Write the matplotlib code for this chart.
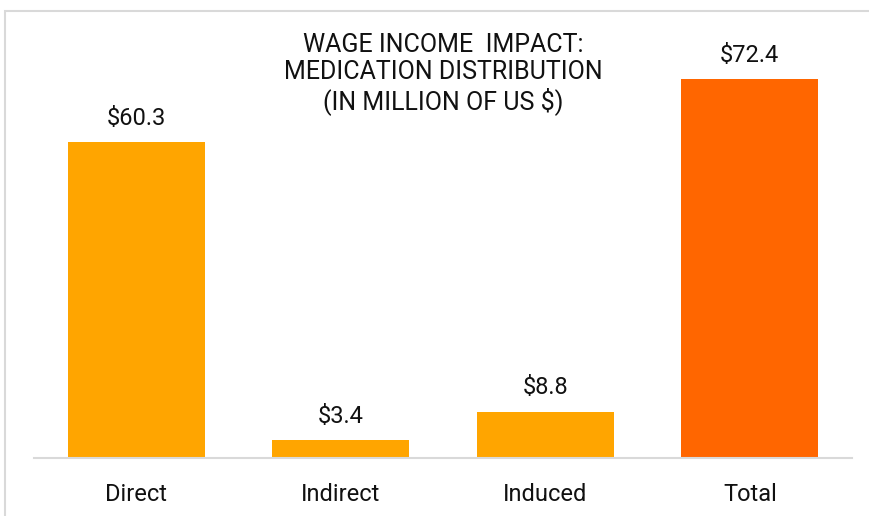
import matplotlib
matplotlib.use("Agg")
import matplotlib.pyplot as plt
from matplotlib.patches import Rectangle

plt.rcParams['font.family'] = ['Roboto', 'DejaVu Sans']

categories = ["Direct", "Indirect", "Induced", "Total"]
values = [60.3, 3.4, 8.8, 72.4]
value_labels = ["$60.3", "$3.4", "$8.8", "$72.4"]
bar_colors = ["#FFA500", "#FFA500", "#FFA500", "#FF6600"]
title = "WAGE INCOME  IMPACT:\nMEDICATION DISTRIBUTION\n(IN MILLION OF US $)"

fig = plt.figure(figsize=(8.69, 5.16), dpi=100)
ax = fig.add_axes([34 / 869, 58 / 516, 818 / 869, 438 / 516])

x = range(len(categories))
bars = ax.bar(x, values, width=0.67, color=bar_colors)

for b, lab in zip(bars, value_labels):
    ax.annotate(lab, (b.get_x() + b.get_width() / 2, b.get_height()),
                xytext=(0, 9), textcoords="offset points",
                ha="center", va="bottom", fontsize=17, color="#111111")

ax.set_xlim(-0.5, 3.5)
ax.set_ylim(0, 83.7)
ax.set_xticks(list(x))
ax.set_xticklabels(categories, fontsize=17, color="#111111")
ax.tick_params(axis="x", length=0, pad=18)
ax.set_yticks([])
for s in ["top", "right", "left"]:
    ax.spines[s].set_visible(False)
ax.spines["bottom"].set_color("#d9d9d9")
ax.spines["bottom"].set_linewidth(1.5)

fig.text(443 / 869, 1 - 74 / 516, title, ha="center", va="center",
         fontsize=18, linespacing=1.15, color="#111111")

# light frame around the chart
fig.patches.append(Rectangle((4.5 / 869, -0.05), 1.0, 1 - 11 / 516 + 0.05,
                             transform=fig.transFigure, fill=False,
                             edgecolor="#d9d9d9", linewidth=1.5))

fig.savefig("out.png", dpi=100)
